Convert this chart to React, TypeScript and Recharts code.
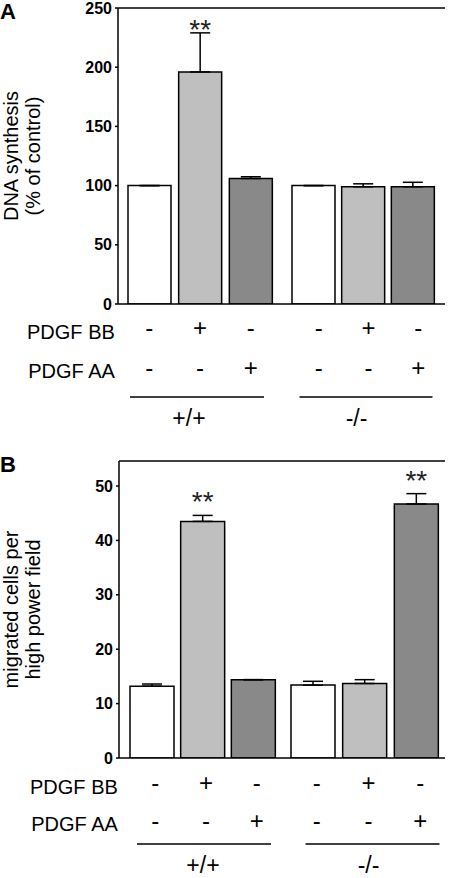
import { Bar, BarChart, Cell, ErrorBar, LabelList, ReferenceLine, XAxis, YAxis } from "recharts";

const FONT = "'Liberation Sans', Arial, Helvetica, sans-serif";

const treatments = ["control", "PDGF BB", "PDGF AA"];
const genotypes = ["+/+", "-/-"];
const pdgfBB = ["-", "+", "-"];
const pdgfAA = ["-", "-", "+"];

// panel A: DNA synthesis (% of control)
const dnaWT = [100, 196, 106];
const dnaWTErr = [0, 33, 1.5];
const dnaWTSig = ["", "**", ""];
const dnaKO = [100, 99, 99];
const dnaKOErr = [0, 2.5, 3.8];
const dnaKOSig = ["", "", ""];
const dnaTicks = [0, 50, 100, 150, 200, 250];

// panel B: migrated cells per high power field
const migWT = [13.2, 43.5, 14.4];
const migWTErr = [0.4, 1.1, 0];
const migWTSig = ["", "**", ""];
const migKO = [13.4, 13.7, 46.7];
const migKOErr = [0.7, 0.7, 1.9];
const migKOSig = ["", "", "**"];
const migTicks = [0, 10, 20, 30, 40, 50];

const fills = ["#ffffff", "#bfbfbf", "#898989"];
const line = { stroke: "#000", strokeWidth: 1.5 };

type Row = { name: string; value: number; err: [number, number]; sig: string };

const makeRows = (vals: number[], errs: number[], sig: string[]): Row[] =>
	treatments.map((name, i) => ({ name, value: vals[i], err: [0, errs[i]], sig: sig[i] }));

type Half = {
	data: Row[];
	group: string;
	pad: [number, number];
	signDx: number;
	groupLine: [number, number];
	groupDx: number;
};

type Panel = {
	letter: string;
	letterTop: number;
	top: number;
	height: number;
	plotTop: number;
	plotBottom: number;
	x0: number;
	xd: number;
	x1: number;
	domain: [number, number];
	ticks: number[];
	divDomain: [number, number];
	divTicks: number[];
	divTick: number;
	edgeTicks: number[];
	edgeTick: number;
	barSize: number;
	starDy: number;
	signY: [number, number];
	labelY: [number, number];
	lineY: number;
	groupY: number;
	yLabel: string[];
	yLabelX: [number, number];
	halves: [Half, Half];
};

const panels: Panel[] = [
	{
		letter: "A",
		letterTop: 1,
		top: 0,
		height: 432,
		plotTop: 8,
		plotBottom: 304,
		x0: 118,
		xd: 282,
		x1: 445,
		domain: [0, 250],
		ticks: dnaTicks,
		divDomain: [13.7, 263.7],
		divTicks: [50, 100, 150, 200],
		divTick: 2,
		edgeTicks: [50, 100, 150, 200],
		edgeTick: 3,
		barSize: 43,
		starDy: 6,
		signY: [32, 72],
		labelY: [35, 74],
		lineY: 93,
		groupY: 122,
		yLabel: ["DNA synthesis", "(% of control)"],
		yLabelX: [17.5, 40],
		halves: [
			{ data: makeRows(dnaWT, dnaWTErr, dnaWTSig), group: genotypes[0], pad: [6, 6], signDx: 0, groupLine: [-70, 64], groupDx: -11 },
			{ data: makeRows(dnaKO, dnaKOErr, dnaKOSig), group: genotypes[1], pad: [7, 7], signDx: 5, groupLine: [-64, 69], groupDx: -7 },
		],
	},
	{
		letter: "B",
		letterTop: 4,
		top: 450,
		height: 428,
		plotTop: 11,
		plotBottom: 308,
		x0: 119,
		xd: 281,
		x1: 445,
		domain: [0, 54.6],
		ticks: migTicks,
		divDomain: [0, 54.6],
		divTicks: [10, 20, 30, 40, 50],
		divTick: 2.5,
		edgeTicks: [10, 20, 30, 40, 50],
		edgeTick: 2,
		barSize: 44,
		starDy: -4,
		signY: [33, 71],
		labelY: [36, 73],
		lineY: 86,
		groupY: 115,
		yLabel: ["migrated cells per", "high power field"],
		yLabelX: [18, 40],
		halves: [
			{ data: makeRows(migWT, migWTErr, migWTSig), group: genotypes[0], pad: [8, 2], signDx: 3, groupLine: [-66, 68], groupDx: 0 },
			{ data: makeRows(migKO, migKOErr, migKOSig), group: genotypes[1], pad: [6, 3], signDx: 4, groupLine: [-59, 75], groupDx: 4 },
		],
	},
];

function SignTick(props: any) {
	const { x, y, index, panel, half, first } = props;
	const p: Panel = panel;
	const h: Half = half;
	const sx = x + h.signDx;
	const txt = { fontFamily: FONT, fill: "#000" };
	return (
		<g>
			<text x={sx} y={y + p.signY[0]} textAnchor="middle" style={{ ...txt, fontSize: 24 }}>
				{pdgfBB[index]}
			</text>
			<text x={sx} y={y + p.signY[1]} textAnchor="middle" style={{ ...txt, fontSize: 24 }}>
				{pdgfAA[index]}
			</text>
			{first && index === 0 && (
				<>
					<text x={x - 34.5} y={y + p.labelY[0]} textAnchor="end" style={{ ...txt, fontSize: 20 }}>
						PDGF BB
					</text>
					<text x={x - 34.5} y={y + p.labelY[1]} textAnchor="end" style={{ ...txt, fontSize: 20 }}>
						PDGF AA
					</text>
				</>
			)}
			{index === 1 && (
				<>
					<line x1={x + h.groupLine[0]} x2={x + h.groupLine[1]} y1={y + p.lineY} y2={y + p.lineY} stroke="#000" strokeWidth={1.3} />
					<text x={x + h.groupDx} y={y + p.groupY} textAnchor="middle" style={{ ...txt, fontSize: 23 }}>
						{h.group}
					</text>
				</>
			)}
		</g>
	);
}

function YLabel(props: any) {
	const { viewBox, lines, xs } = props;
	if (!viewBox) return null;
	const cy = viewBox.y + viewBox.height / 2;
	return (
		<g>
			{lines.map((t: string, i: number) => (
				<text
					key={i}
					x={xs[i]}
					y={cy}
					transform={`rotate(-90 ${xs[i]} ${cy})`}
					textAnchor="middle"
					style={{ fontSize: 20, fontFamily: FONT, fill: "#000" }}
				>
					{t}
				</text>
			))}
		</g>
	);
}

function stars(data: Row[], dy: number) {
	return (props: any) => {
		const { x, y, width, height, index } = props;
		const row = data[index];
		if (!row || !row.sig) return null;
		const k = height / row.value;
		const errTop = y - row.err[1] * k;
		return (
			<text x={x + width / 2} y={errTop + dy} textAnchor="middle" style={{ fontSize: 28, fontFamily: FONT, fill: "#222" }}>
				{row.sig}
			</text>
		);
	};
}

function Bars({ data, panel }: { data: Row[]; panel: Panel }) {
	return (
		<Bar dataKey="value" yAxisId="main" barSize={panel.barSize} stroke="#000" strokeWidth={1.5} isAnimationActive={false}>
			{data.map((_, i) => (
				<Cell key={i} fill={fills[i]} />
			))}
			<ErrorBar dataKey="err" direction="y" width={10} stroke="#000" strokeWidth={1.5} isAnimationActive={false} />
			<LabelList dataKey="sig" content={stars(data, panel.starDy)} />
		</Bar>
	);
}

function PanelView({ panel }: { panel: Panel }) {
	const [l, r] = panel.halves;
	const xh = panel.height - panel.plotBottom;
	return (
		<div style={{ position: "absolute", left: 0, top: panel.top, width: 450, height: panel.height }}>
			<div style={{ position: "absolute", left: 0, top: 0 }}>
				<BarChart width={panel.xd + 2} height={panel.height} data={l.data} margin={{ top: panel.plotTop, right: 2, bottom: 0, left: 0 }}>
					<XAxis
						dataKey="name"
						height={xh}
						interval={0}
						padding={{ left: l.pad[0], right: l.pad[1] }}
						axisLine={line}
						tickLine={false}
						tickSize={0}
						tickMargin={0}
						tick={(p: any) => <SignTick {...p} panel={panel} half={l} first />}
					/>
					<YAxis
						yAxisId="main"
						width={panel.x0}
						domain={panel.domain}
						ticks={panel.ticks}
						interval={0}
						allowDataOverflow
						axisLine={line}
						tickLine={line}
						tickSize={3}
						tickMargin={3}
						tick={{ fontSize: 16, fontWeight: 700, fill: "#000", fontFamily: FONT }}
						label={<YLabel lines={panel.yLabel} xs={panel.yLabelX} />}
					/>
					<YAxis
						yAxisId="d1"
						orientation="right"
						width={0}
						domain={panel.divDomain}
						ticks={panel.divTicks}
						interval={0}
						allowDataOverflow
						axisLine={line}
						tickLine={line}
						tickSize={panel.divTick}
						tick={false}
					/>
					<YAxis
						yAxisId="d2"
						orientation="right"
						width={0}
						domain={panel.divDomain}
						ticks={panel.divTicks}
						interval={0}
						allowDataOverflow
						axisLine={false}
						tickLine={line}
						tickSize={-panel.divTick}
						tick={false}
					/>
					<ReferenceLine yAxisId="main" y={panel.domain[1]} stroke="#000" strokeWidth={1.5} />
					{Bars({ data: l.data, panel })}
				</BarChart>
			</div>
			<div style={{ position: "absolute", left: panel.xd, top: 0 }}>
				<BarChart width={panel.x1 - panel.xd + 2} height={panel.height} data={r.data} margin={{ top: panel.plotTop, right: 2, bottom: 0, left: 0 }}>
					<XAxis
						dataKey="name"
						height={xh}
						interval={0}
						padding={{ left: r.pad[0], right: r.pad[1] }}
						axisLine={line}
						tickLine={false}
						tickSize={0}
						tickMargin={0}
						tick={(p: any) => <SignTick {...p} panel={panel} half={r} />}
					/>
					<YAxis
						yAxisId="main"
						orientation="right"
						width={0}
						domain={panel.domain}
						ticks={panel.edgeTicks}
						interval={0}
						allowDataOverflow
						axisLine={line}
						tickLine={line}
						tickSize={-panel.edgeTick}
						tick={false}
					/>
					<ReferenceLine yAxisId="main" y={panel.domain[1]} stroke="#000" strokeWidth={1.5} />
					{Bars({ data: r.data, panel })}
				</BarChart>
			</div>
			<div style={{ position: "absolute", left: 0, top: panel.letterTop, fontFamily: FONT, fontWeight: 700, fontSize: 22, lineHeight: "22px" }}>
				{panel.letter}
			</div>
		</div>
	);
}

export default function App() {
	return (
		<div style={{ position: "absolute", left: 0, top: 0, width: 450, height: 878, background: "#fff", fontFamily: FONT }}>
			{panels.map((p) => (
				<PanelView key={p.letter} panel={p} />
			))}
		</div>
	);
}
